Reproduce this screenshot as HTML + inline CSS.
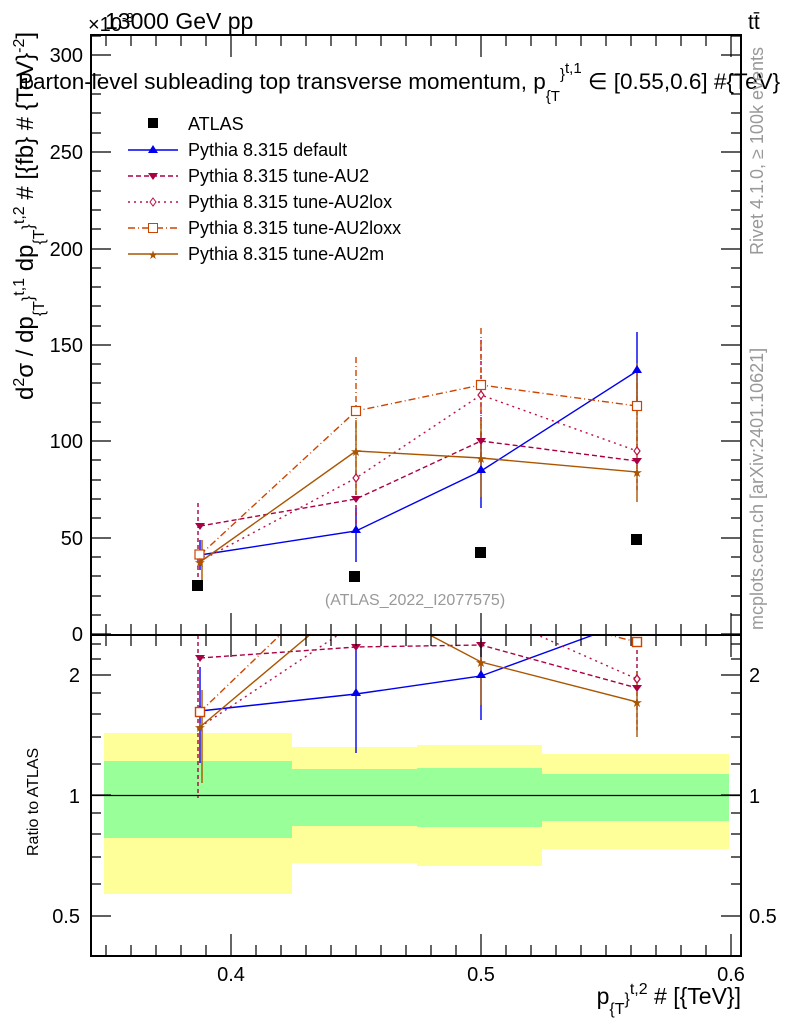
<!DOCTYPE html>
<html><head><meta charset="utf-8"><style>
html,body{margin:0;padding:0;background:#fff;}
svg{display:block;font-family:"Liberation Sans",sans-serif;}
</style></head><body>
<svg width="786" height="1024" viewBox="0 0 786 1024" xmlns="http://www.w3.org/2000/svg">
<defs>
<clipPath id="cm"><rect x="91" y="35" width="650" height="600"/></clipPath>
<clipPath id="cr"><rect x="91" y="635" width="650" height="321"/></clipPath>
</defs>
<g>
<rect x="104" y="733" width="188" height="161" fill="#ffff99"/>
<rect x="104" y="761" width="188" height="77" fill="#99ff99"/>
<rect x="292" y="747" width="125" height="116" fill="#ffff99"/>
<rect x="292" y="769" width="125" height="57" fill="#99ff99"/>
<rect x="417" y="745" width="125" height="121" fill="#ffff99"/>
<rect x="417" y="768" width="125" height="59" fill="#99ff99"/>
<rect x="542" y="754" width="187" height="95" fill="#ffff99"/>
<rect x="542" y="774" width="187" height="47" fill="#99ff99"/>
<line x1="91" y1="795.5" x2="741" y2="795.5" stroke="#000" stroke-width="1.2"/>
</g>
<g clip-path="url(#cm)" fill="none" stroke-width="1.4">
<g stroke="#0000ee"><line x1="200" y1="540" x2="200" y2="570"/><line x1="356" y1="508" x2="356" y2="562"/><line x1="481" y1="433" x2="481" y2="508"/><line x1="637" y1="332" x2="637" y2="409"/></g>
<g stroke="#aa0044" stroke-dasharray="4,3"><line x1="198" y1="503" x2="198" y2="587"/><line x1="356" y1="470" x2="356" y2="530"/><line x1="481" y1="340" x2="481" y2="475"/><line x1="637" y1="430" x2="637" y2="492"/></g>
<g stroke="#cc4400" stroke-dasharray="6,3,1,3"><line x1="356" y1="357" x2="356" y2="470"/><line x1="481" y1="328" x2="481" y2="440"/><line x1="637" y1="370" x2="637" y2="450"/></g>
<g stroke="#aa5500"><line x1="202" y1="540" x2="202" y2="585"/><line x1="356" y1="420" x2="356" y2="495"/><line x1="481" y1="420" x2="481" y2="497"/><line x1="637" y1="363" x2="637" y2="502"/></g>
<polyline stroke="#0000ee" points="200,555 356,531 481,471 637,371"/>
<polyline stroke="#aa0044" stroke-dasharray="5,3" points="200,526 356,499 481,441 637,461"/>
<polyline stroke="#bb1144" stroke-dasharray="2,4,2,4" points="200,561 356,478 481,395 637,451"/>
<polyline stroke="#cc4400" stroke-dasharray="7,3,1,3" points="200,555 356,411 481,385 637,406"/>
<polyline stroke="#aa5500" points="200,562 356,451 481,458 637,472"/>
<g fill="#0000ee" stroke="none"><path d="M200,549 l5,8 h-10z"/><path d="M356,525 l5,8 h-10z"/><path d="M481,465 l5,8 h-10z"/><path d="M637,365 l5,8 h-10z"/></g>
<g fill="#aa0044" stroke="none"><path d="M200,530 l-5,-7 h10z"/><path d="M356,503 l-5,-7 h10z"/><path d="M481,445 l-5,-7 h10z"/><path d="M637,465 l-5,-7 h10z"/></g>
<g fill="#fff" stroke="#bb1144" stroke-width="1.2"><path d="M356,474 l3,4 l-3,4 l-3,-4z"/><path d="M481,391 l3,4 l-3,4 l-3,-4z"/><path d="M637,447 l3,4 l-3,4 l-3,-4z"/></g>
<g fill="#fff" stroke="#cc4400" stroke-width="1.2"><rect x="195" y="550" width="9" height="9"/><rect x="351.5" y="406.5" width="9" height="9"/><rect x="476.5" y="380.5" width="9" height="9"/><rect x="632.5" y="401.5" width="9" height="9"/></g>
<g fill="#aa5500" font-size="13" text-anchor="middle"><text x="200" y="567" stroke="none">★</text><text x="356" y="456" stroke="none">★</text><text x="481" y="463" stroke="none">★</text><text x="637" y="477" stroke="none">★</text></g>
<g fill="#000" stroke="none"><rect x="192" y="580" width="11" height="11"/><rect x="349" y="571" width="11" height="11"/><rect x="475" y="547" width="11" height="11"/><rect x="631" y="534" width="11" height="11"/></g>
</g>
<g clip-path="url(#cr)" fill="none" stroke-width="1.4">
<g stroke="#0000ee"><line x1="200" y1="667" x2="200" y2="763"/><line x1="356" y1="647" x2="356" y2="753"/><line x1="481" y1="638" x2="481" y2="720"/></g>
<g stroke="#aa0044" stroke-dasharray="4,3"><line x1="198" y1="635" x2="198" y2="798"/><line x1="637" y1="650" x2="637" y2="730"/></g>
<g stroke="#aa5500"><line x1="202" y1="690" x2="202" y2="783"/><line x1="481" y1="640" x2="481" y2="705"/><line x1="637" y1="672" x2="637" y2="737"/></g>
<polyline stroke="#0000ee" points="200,711 356,694 481,676 637,619"/>
<polyline stroke="#aa0044" stroke-dasharray="5,3" points="200,658 356,647 481,645 637,688"/>
<polyline stroke="#bb1144" stroke-dasharray="2,4,2,4" points="200,727 356,623 481,610 637,679"/>
<polyline stroke="#cc4400" stroke-dasharray="7,3,1,3" points="200,712 356,562 481,603 637,642"/>
<polyline stroke="#aa5500" points="200,727 356,596 481,662 637,702"/>
<g fill="#0000ee" stroke="none"><path d="M200,705 l5,8 h-10z"/><path d="M356,688 l5,8 h-10z"/><path d="M481,670 l5,8 h-10z"/></g>
<g fill="#aa0044" stroke="none"><path d="M200,662 l-5,-7 h10z"/><path d="M356,651 l-5,-7 h10z"/><path d="M481,649 l-5,-7 h10z"/><path d="M637,692 l-5,-7 h10z"/></g>
<path d="M637,675 l3,4 l-3,4 l-3,-4z" fill="#fff" stroke="#bb1144"/>
<rect x="195.5" y="707.5" width="9" height="9" fill="#fff" stroke="#cc4400"/>
<rect x="632.5" y="637.5" width="9" height="9" fill="#fff" stroke="#cc4400"/>
<g fill="#aa5500" font-size="13" text-anchor="middle"><text x="200" y="732">★</text><text x="481" y="667">★</text><text x="637" y="707">★</text></g>
</g>
<g stroke="#000" stroke-width="2" fill="none">
<rect x="91" y="35" width="650" height="600"/>
<rect x="91" y="635" width="650" height="321"/>
</g>
<g stroke="#000" stroke-width="1.2">
<path d="M91,634h20M91,538h20M91,441h20M91,345h20M91,249h20M91,152h20M91,55h20 M741,634h-20M741,538h-20M741,441h-20M741,345h-20M741,249h-20M741,152h-20M741,55h-20"/>
<path d="M91,615h10M91,596h10M91,576h10M91,557h10M91,518h10M91,499h10M91,480h10M91,460h10M91,422h10M91,403h10M91,383h10M91,364h10M91,326h10M91,306h10M91,287h10M91,268h10M91,229h10M91,210h10M91,191h10M91,171h10M91,133h10M91,113h10M91,94h10M91,75h10M91,36h10
M741,615h-10M741,596h-10M741,576h-10M741,557h-10M741,518h-10M741,499h-10M741,480h-10M741,460h-10M741,422h-10M741,403h-10M741,383h-10M741,364h-10M741,326h-10M741,306h-10M741,287h-10M741,268h-10M741,229h-10M741,210h-10M741,191h-10M741,171h-10M741,133h-10M741,113h-10M741,94h-10M741,75h-10M741,36h-10"/>
<path d="M91,916h20M91,795h20M91,675h20M741,916h-20M741,795h-20M741,675h-20"/>
<path d="M91,884h10M91,857h10M91,834h10M91,813h10M91,764h10M91,737h10M91,714h10M91,693h10M91,659h10M91,644h10M741,884h-10M741,857h-10M741,834h-10M741,813h-10M741,764h-10M741,737h-10M741,714h-10M741,693h-10M741,659h-10M741,644h-10"/>
<path d="M231,35v22M481,35v22M731,35v22M231,635v-22M481,635v-22M731,635v-22M231,635v22M481,635v22M731,635v22M231,956v-22M481,956v-22M731,956v-22"/>
<path d="M106,35v11M131,35v11M156,35v11M181,35v11M206,35v11M256,35v11M281,35v11M306,35v11M331,35v11M356,35v11M381,35v11M406,35v11M431,35v11M456,35v11M506,35v11M531,35v11M556,35v11M581,35v11M606,35v11M631,35v11M656,35v11M681,35v11M706,35v11
M106,635v-11M131,635v-11M156,635v-11M181,635v-11M206,635v-11M256,635v-11M281,635v-11M306,635v-11M331,635v-11M356,635v-11M381,635v-11M406,635v-11M431,635v-11M456,635v-11M506,635v-11M531,635v-11M556,635v-11M581,635v-11M606,635v-11M631,635v-11M656,635v-11M681,635v-11M706,635v-11
M106,635v11M131,635v11M156,635v11M181,635v11M206,635v11M256,635v11M281,635v11M306,635v11M331,635v11M356,635v11M381,635v11M406,635v11M431,635v11M456,635v11M506,635v11M531,635v11M556,635v11M581,635v11M606,635v11M631,635v11M656,635v11M681,635v11M706,635v11
M106,956v-11M131,956v-11M156,956v-11M181,956v-11M206,956v-11M256,956v-11M281,956v-11M306,956v-11M331,956v-11M356,956v-11M381,956v-11M406,956v-11M431,956v-11M456,956v-11M506,956v-11M531,956v-11M556,956v-11M581,956v-11M606,956v-11M631,956v-11M656,956v-11M681,956v-11M706,956v-11"/>
</g>
<g font-size="20" fill="#000" text-anchor="end">
<text x="83" y="62">300</text><text x="83" y="159">250</text><text x="83" y="256">200</text><text x="83" y="352">150</text><text x="83" y="448">100</text><text x="83" y="545">50</text><text x="83" y="641">0</text>
<text x="80" y="682">2</text><text x="80" y="803">1</text><text x="80" y="923">0.5</text>
</g>
<g font-size="20" fill="#000" text-anchor="start">
<text x="749" y="682">2</text><text x="749" y="803">1</text><text x="749" y="923">0.5</text>
</g>
<g font-size="20" fill="#000" text-anchor="middle">
<text x="231" y="981">0.4</text><text x="481" y="981">0.5</text><text x="731" y="981">0.6</text>
</g>
<text x="88" y="31" font-size="20">×10</text><text x="122" y="22" font-size="13">-3</text>
<text x="105" y="29" font-size="23">13000 GeV pp</text>
<text x="748" y="29" font-size="21">tt̄</text>
<text x="18" y="89" font-size="22.5">Parton-level subleading top transverse momentum, p<tspan font-size="15" dy="12">{T</tspan><tspan font-size="15" dy="-22">}</tspan><tspan font-size="15" dy="-6">t,1</tspan><tspan dy="16"> ∈ [0.55,0.6] #{TeV}</tspan></text>
<g font-size="18" fill="#000">
<rect x="148" y="118" width="10" height="10"/>
<text x="188" y="130">ATLAS</text>
<line x1="128" y1="150" x2="178" y2="150" stroke="#0000ee" stroke-width="1.4"/><path d="M153,145 l5,8 h-10z" fill="#0000ee"/>
<text x="188" y="156">Pythia 8.315 default</text>
<line x1="128" y1="176" x2="178" y2="176" stroke="#aa0044" stroke-width="1.4" stroke-dasharray="5,3"/><path d="M153,180 l-5,-7 h10z" fill="#aa0044"/>
<text x="188" y="182">Pythia 8.315 tune-AU2</text>
<line x1="128" y1="202" x2="178" y2="202" stroke="#bb1144" stroke-width="1.4" stroke-dasharray="2,4"/><path d="M153,198 l3,4 l-3,4 l-3,-4z" fill="#fff" stroke="#bb1144"/>
<text x="188" y="208">Pythia 8.315 tune-AU2lox</text>
<line x1="128" y1="228" x2="178" y2="228" stroke="#cc4400" stroke-width="1.4" stroke-dasharray="7,3,1,3"/><rect x="148.5" y="223.5" width="9" height="9" fill="#fff" stroke="#cc4400"/>
<text x="188" y="234">Pythia 8.315 tune-AU2loxx</text>
<line x1="128" y1="254" x2="178" y2="254" stroke="#aa5500" stroke-width="1.4"/><text x="153" y="259" font-size="12" fill="#aa5500" text-anchor="middle">★</text>
<text x="188" y="260">Pythia 8.315 tune-AU2m</text>
</g>
<text x="415" y="605" font-size="16" fill="#999" text-anchor="middle">(ATLAS_2022_I2077575)</text>
<text transform="translate(33,400) rotate(-90)" font-size="24" fill="#000">d<tspan font-size="16" dy="-9">2</tspan><tspan dy="9">σ / dp</tspan><tspan font-size="16" dy="11">{T</tspan><tspan font-size="16" dy="-11">}</tspan><tspan font-size="16" dy="-9">t,1</tspan><tspan dy="9"> dp</tspan><tspan font-size="16" dy="11">{T</tspan><tspan font-size="16" dy="-11">}</tspan><tspan font-size="16" dy="-9">t,2</tspan><tspan dy="9"> # [{fb} # {TeV}</tspan><tspan font-size="16" dy="-9">-2</tspan><tspan dy="9">]</tspan></text>
<text transform="translate(38,856) rotate(-90)" font-size="16" fill="#000">Ratio to ATLAS</text>
<text transform="translate(763,255) rotate(-90)" font-size="18" fill="#999">Rivet 4.1.0, ≥ 100k events</text>
<text transform="translate(763,630) rotate(-90)" font-size="18" fill="#999">mcplots.cern.ch [arXiv:2401.10621]</text>
<text x="741" y="1004" font-size="23" fill="#000" text-anchor="end">p<tspan font-size="16" dy="10">{T</tspan><tspan font-size="16" dy="-10">}</tspan><tspan font-size="16" dy="-10">t,2</tspan><tspan dy="10"> # [{TeV}]</tspan></text>
</svg>
</body></html>
